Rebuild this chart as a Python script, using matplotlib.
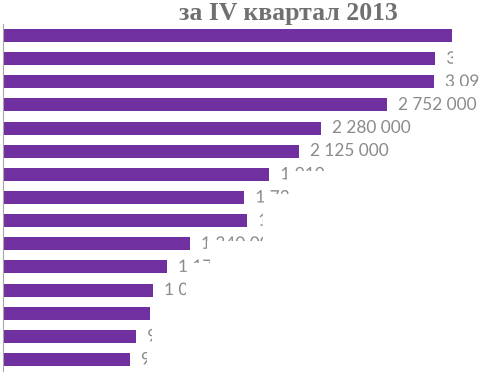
import matplotlib.pyplot as plt
import matplotlib.patheffects as pe
import numpy as np
from matplotlib.path import Path
from matplotlib.transforms import Affine2D

# data (top bar first)
values = [3220000, 3100000, 3090000, 2752000, 2280000, 2125000, 1910000,
          1730000, 1750000, 1340000, 1175000, 1075000, 1055000, 955000, 910000]
labels = [f'{v:,}'.replace(',', ' ') for v in values]
title = 'за IV квартал 2013'

W, H = 479, 373

# parts of the value labels that show in the reference (image px: x0, x1, y0, y1)
# None = whole label shows, [] = label is hidden
label_clip = {
    0: [],
    1: [(440, 453, 45, 72)],
    2: [(440, 479, 70, 86)],
    3: None,
    4: None,
    5: None,
    6: [(270, 287, 160, 190), (270, 330, 160, 171)],
    7: [(250, 264, 185, 210), (250, 290, 185, 194)],
    8: [(250, 263, 205, 235)],
    9: [(190, 207, 230, 260), (190, 263, 230, 241)],
    10: [(170, 187, 255, 280), (170, 210, 255, 263)],
    11: [(160, 186, 278, 302)],
    12: [],
    13: [(140, 152, 325, 348)],
    14: [(136, 147, 348, 372)],
}

fig = plt.figure(figsize=(W / 100, H / 100), dpi=100)
ax = fig.add_axes([3 / W, 2 / H, 476 / W, 347 / H])

y = np.arange(len(values))
ax.barh(y, values, height=0.56, color='#7030A0')
ax.set_ylim(len(values) - 0.5, -0.5)
ax.set_xlim(0, 476 * 7172)
ax.set_xticks([])
ax.set_yticks([])
for s in ['top', 'right', 'bottom']:
    ax.spines[s].set_visible(False)
ax.spines['left'].set_color('#a6a6a6')
ax.spines['left'].set_linewidth(0.8)

px = Affine2D().scale(1, -1).translate(0, H)
for i, (v, lab) in enumerate(zip(values, labels)):
    rects = label_clip.get(i)
    if rects == []:
        continue
    t = ax.annotate(lab, (v, i), xytext=(8, 0), textcoords='offset points',
                    va='center', ha='left', fontsize=12.4, color='#8a8a8a',
                    family='Lato')
    if rects:
        # agg ignores clip paths for plain text, so draw it as a path
        verts, codes = [], []
        for x0, x1, y0, y1 in rects:
            verts += [(x0, y0), (x1, y0), (x1, y1), (x0, y1), (x0, y0)]
            codes += [Path.MOVETO, Path.LINETO, Path.LINETO, Path.LINETO, Path.CLOSEPOLY]
        t.set_clip_path(Path(verts, codes), px)
        t.set_clip_on(True)
        t.set_path_effects([pe.Normal()])

fig.text(288 / W, 1 - 20 / H, title, ha='center', va='baseline', fontsize=18.5,
         fontweight='bold', family='Liberation Serif', color='#707070')

fig.savefig('out.png', dpi=100)
